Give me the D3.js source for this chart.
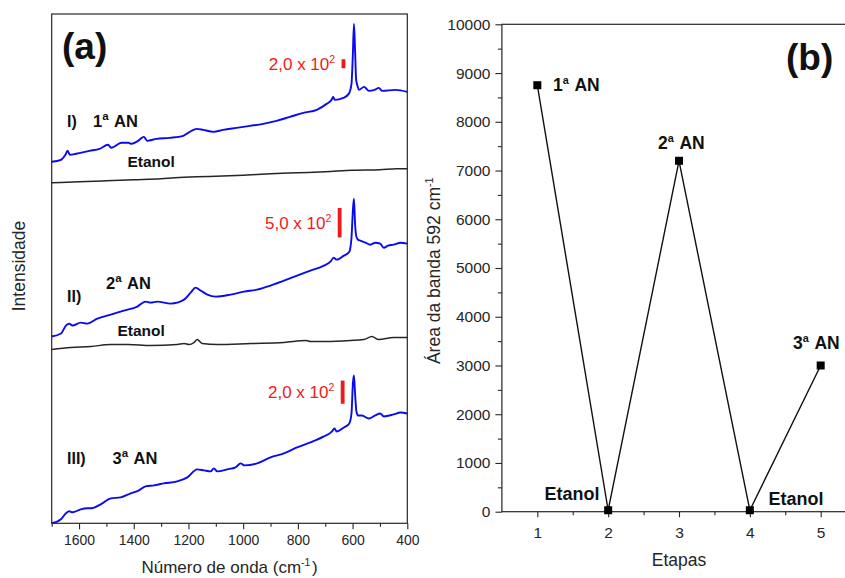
<!DOCTYPE html>
<html><head><meta charset="utf-8">
<script src="https://cdn.jsdelivr.net/npm/d3@7"></script>
<style>
body{margin:0;background:#fff}
svg{display:block}
text{font-family:"Liberation Sans",Arial,Helvetica,sans-serif}
</style>
</head><body>
<svg id="chart" width="845" height="578"></svg>
<script>
// ---------------- DATA ----------------
// Panel (a): Raman spectra, [wavenumber (cm-1), intensity (a.u., stacked/offset)]
const spectrumI = [[1700,362],[1666,364],[1650,369],[1642,373],[1633,369],[1611,370],[1562,373],[1525,375],[1494,379],[1482,376],[1445,381],[1420,381],[1408,380],[1384,383],[1363,387],[1351,383],[1317,385],[1268,386],[1219,388],[1201,391],[1170,395],[1146,394],[1109,392],[1073,394],[1024,396],[975,398],[927,400],[878,403],[829,407],[780,411],[731,414],[695,420],[677,424],[671,427],[665,424],[634,426],[614,430],[604,440],[599,470],[595,500],[591,474],[587,444],[582,438],[577,434],[558,437],[540,433],[520,434],[504,436],[492,433],[443,434],[400,432]];
const ethanolI = [[1700,341],[1600,342],[1500,343],[1400,344],[1300,345],[1250,346],[1170,347],[1100,347.5],[1000,348.5],[900,350],[800,351],[700,352],[600,353.5],[500,354],[440,355],[400,355]];
const spectrumII = [[1700,187],[1666,190],[1648,198],[1636,200],[1624,198],[1594,201],[1570,200],[1533,205],[1484,209],[1436,213],[1387,217],[1357,222],[1338,221],[1314,222],[1265,220],[1216,224],[1192,231],[1174,236],[1155,233],[1131,229],[1101,227],[1046,229],[997,232],[949,234],[900,238],[851,243],[803,248],[754,253],[705,258],[681,262],[669,266],[659,264],[632,268],[612,272],[604,286],[599,313],[595,325],[591,300],[586,287],[580,284],[572,283],[553,281],[535,279],[517,281],[499,280],[486,276],[470,278],[450,279],[425,281],[400,280]];
const ethanolII = [[1700,174],[1630,176],[1557,177],[1484,179],[1420,179],[1338,178],[1241,179],[1216,180],[1198,179],[1180,181],[1168,184],[1150,180],[1095,179],[973,180],[851,181],[770,183],[754,182],[700,182],[608,183],[559,184],[529,187],[505,184],[450,186],[425,186],[400,186]];
const spectrumIII = [[1700,0],[1666,4],[1648,10],[1636,12],[1624,11],[1594,14],[1570,15],[1555,15],[1521,19],[1484,25],[1448,26],[1411,30],[1381,33],[1357,37],[1326,38],[1290,40],[1241,42],[1204,46],[1168,54],[1143,53],[1119,52],[1107,55],[1095,52],[1058,54],[1028,56],[1009,60],[995,58],[949,60],[900,66],[851,70],[803,76],[754,81],[705,87],[675,92],[666,95],[659,92],[632,96],[612,100],[604,110],[599,140],[595,148],[591,130],[586,112],[580,108],[566,108],[541,105],[517,108],[499,110],[486,107],[450,109],[425,111],[400,110]];
const xTicksA = [1600,1400,1200,1000,800,600,400];
const xMinorA = [1700,1500,1300,1100,900,700,500];
// intensity scale bars: counts, label mantissa, a.u. per count, bar centre
const scaleBarCounts = [200, 500, 200];
const scaleBarLabels = ["2,0 x 10", "5,0 x 10", "2,0 x 10"];
const scaleBarGain = [0.045, 0.059, 0.116];
const scaleBarCentre = [[633,460.2],[647,301],[636,131.3]];

// Panel (b): band area at 592 cm-1 by step
const etapas = [1, 2, 3, 4, 5];
const area592 = [8750, 30, 7200, 30, 3000];
const yTicksB = [0,1000,2000,3000,4000,5000,6000,7000,8000,9000,10000];
const yMinorB = [500,1500,2500,3500,4500,5500,6500,7500,8500,9500];
const xMinorB = [1.5,2.5,3.5,4.5];

// ---------------- DRAW ----------------
const svg = d3.select("#chart");
const INK = "#262626";
const BLUE = "#0a0af0";
const RED = "#f01919";
const FONT = '"Liberation Sans",Arial,sans-serif';

function richText(parent, x, y, parts, size, weight, fill, anchor, supRatio){
  const r = supRatio || 0.62;
  const t = parent.append("text").attr("x", x).attr("y", y)
    .attr("font-size", size).attr("font-weight", weight||"normal")
    .attr("fill", fill||INK).attr("text-anchor", anchor||"start");
  parts.forEach(p => {
    if (typeof p === "string") t.append("tspan").text(p);
    else {
      t.append("tspan").attr("font-size", size*r).attr("dy", -size*0.42).text(p.sup);
      t.append("tspan").attr("font-size", size).attr("dy", size*0.42).text("\u200A");
    }
  });
  return t;
}

// ----- Panel (a) -----
const xA = d3.scaleLinear().domain([1700, 400]).range([51.7, 407.3]);
const yA = d3.scaleLinear().domain([0, 510]).range([523.3, 14]);
const gA = svg.append("g");

gA.append("g").attr("transform", `translate(0,${yA(0)})`)
  .call(d3.axisBottom(xA).tickValues(xMinorA).tickSize(3.5).tickFormat(""))
  .call(g => g.select(".domain").remove())
  .call(g => g.selectAll("line").attr("stroke", INK).attr("stroke-width", 1.1));
gA.append("g").attr("transform", `translate(0,${yA(0)})`)
  .call(d3.axisBottom(xA).tickValues(xTicksA).tickSize(6).tickPadding(6).tickFormat(d3.format("d")))
  .call(g => g.select(".domain").remove())
  .call(g => g.selectAll("line").attr("stroke", INK).attr("stroke-width", 1.1))
  .call(g => g.selectAll("text").attr("font-size", 14).attr("fill", INK).attr("font-family", FONT));

const lineA = d3.line().x(d => xA(d[0])).y(d => yA(d[1])).curve(d3.curveMonotoneX);
[[ethanolI,INK,1.5],[ethanolII,INK,1.5],[spectrumI,BLUE,1.9],[spectrumII,BLUE,1.9],[spectrumIII,BLUE,1.9]]
  .forEach(([d,c,w]) => gA.append("path").datum(d).attr("d", lineA)
    .attr("fill","none").attr("stroke",c).attr("stroke-width",w).attr("stroke-linejoin","round"));

gA.append("rect").attr("x", xA(1700)).attr("y", yA(510))
  .attr("width", xA(400)-xA(1700)).attr("height", yA(0)-yA(510))
  .attr("fill","none").attr("stroke", INK).attr("stroke-width", 1.2);

// scale bars
scaleBarCounts.forEach((c, i) => {
  const [wn, mid] = scaleBarCentre[i];
  const h = c * scaleBarGain[i];
  gA.append("rect").attr("x", xA(wn) - 2).attr("width", 3.8)
    .attr("y", yA(mid + h/2)).attr("height", yA(mid - h/2) - yA(mid + h/2))
    .attr("fill", RED);
  richText(gA, xA(wn) - 7, yA(mid) + 6, [scaleBarLabels[i], {sup:"2"}], 17, "normal", RED, "end");
});

// labels panel (a)
richText(gA, 62, 59, ["(a)"], 37, "bold", "#111");
richText(gA, 67, 127, ["I)"], 16, "bold", "#111");
richText(gA, 93, 127, ["1", {sup:"a"}, " AN"], 16.5, "bold", "#111", "start", 0.7);
richText(gA, 127.5, 167, ["Etanol"], 15.5, "bold", "#111");
richText(gA, 67, 302, ["II)"], 16, "bold", "#111");
richText(gA, 106, 289, ["2", {sup:"a"}, " AN"], 16.5, "bold", "#111", "start", 0.7);
richText(gA, 117.5, 336, ["Etanol"], 15.5, "bold", "#111");
richText(gA, 67, 463.5, ["III)"], 16, "bold", "#111");
richText(gA, 112.5, 463.5, ["3", {sup:"a"}, " AN"], 16.5, "bold", "#111", "start", 0.7);

// axis titles panel (a)
richText(gA, (xA(1700)+xA(400))/2, 573, ["Número de onda (cm", {sup:"-1"}, ")"], 17, "normal", INK, "middle");
gA.append("text").attr("transform", "translate(25,266) rotate(-90)")
  .attr("text-anchor","middle").attr("font-size", 17.5).attr("fill", INK).text("Intensidade");

// ----- Panel (b) -----
const xB = d3.scaleLinear().domain([0.5, 5.5]).range([501.9, 856.1]);
const yB = d3.scaleLinear().domain([0, 10000]).range([511.7, 24.3]);
const gB = svg.append("g");

gB.append("g").attr("transform", `translate(0,${yB(0)})`)
  .call(d3.axisBottom(xB).tickValues(xMinorB).tickSize(3.5).tickFormat(""))
  .call(g => g.select(".domain").remove())
  .call(g => g.selectAll("line").attr("stroke", INK).attr("stroke-width", 1.1));
gB.append("g").attr("transform", `translate(0,${yB(0)})`)
  .call(d3.axisBottom(xB).tickValues(etapas).tickSize(5.5).tickPadding(9.5).tickFormat(d3.format("d")))
  .call(g => g.select(".domain").remove())
  .call(g => g.selectAll("line").attr("stroke", INK).attr("stroke-width", 1.1))
  .call(g => g.selectAll("text").attr("font-size", 15.5).attr("fill", INK).attr("font-family", FONT));
gB.append("g").attr("transform", `translate(${xB(0.5)},0)`)
  .call(d3.axisLeft(yB).tickValues(yMinorB).tickSize(4).tickFormat(""))
  .call(g => g.select(".domain").remove())
  .call(g => g.selectAll("line").attr("stroke", INK).attr("stroke-width", 1.1));
gB.append("g").attr("transform", `translate(${xB(0.5)},0)`)
  .call(d3.axisLeft(yB).tickValues(yTicksB).tickSize(6.5).tickPadding(5).tickFormat(d3.format("d")))
  .call(g => g.select(".domain").remove())
  .call(g => g.selectAll("line").attr("stroke", INK).attr("stroke-width", 1.1))
  .call(g => g.selectAll("text").attr("font-size", 15.5).attr("fill", INK).attr("font-family", FONT));

gB.append("rect").attr("x", xB(0.5)).attr("y", yB(10000))
  .attr("width", xB(5.5)-xB(0.5)).attr("height", yB(0)-yB(10000))
  .attr("fill","none").attr("stroke", INK).attr("stroke-width", 1.2);

const pts = etapas.map((e, i) => [e, area592[i]]);
gB.append("path").datum(pts)
  .attr("d", d3.line().x(d => xB(d[0])).y(d => yB(d[1])))
  .attr("fill","none").attr("stroke","#111").attr("stroke-width",1.4);
gB.selectAll("rect.pt").data(pts).enter().append("rect").attr("class","pt")
  .attr("x", d => xB(d[0]) - 4).attr("y", d => yB(d[1]) - 4)
  .attr("width", 8).attr("height", 8).attr("fill", "#000");

// labels panel (b)
richText(gB, 786, 70, ["(b)"], 37, "bold", "#111");
richText(gB, 553, 91, ["1", {sup:"a"}, " AN"], 17.5, "bold", "#111");
richText(gB, 658, 149, ["2", {sup:"a"}, " AN"], 17.5, "bold", "#111");
richText(gB, 793, 349, ["3", {sup:"a"}, " AN"], 17.5, "bold", "#111");
richText(gB, 544.5, 500, ["Etanol"], 18, "bold", "#111");
richText(gB, 768.5, 505, ["Etanol"], 18, "bold", "#111");

// axis titles panel (b)
richText(gB, xB(3), 566, ["Etapas"], 17.5, "normal", INK, "middle");
const yt = gB.append("g").attr("transform", "translate(440,270) rotate(-90)");
richText(yt, 0, 0, ["Área da banda 592 cm", {sup:"-1"}], 17.5, "normal", INK, "middle");
</script>
</body></html>
